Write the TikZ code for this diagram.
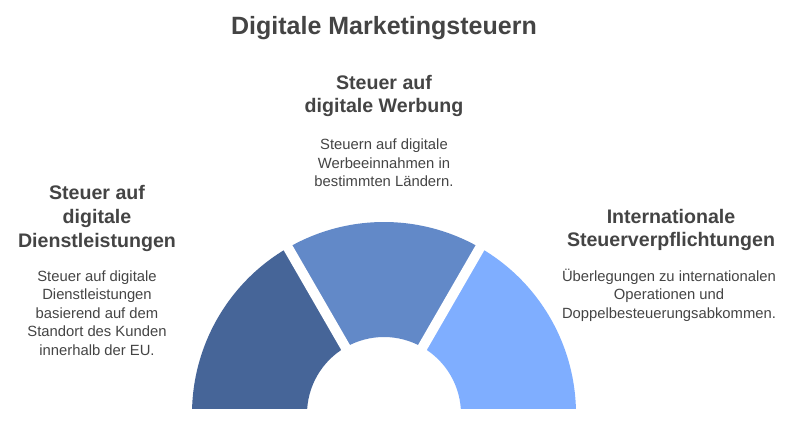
\documentclass[tikz,border=0pt]{standalone}
\usepackage{fontspec}
\setmainfont{Liberation Sans}
\usetikzlibrary{calc}
\definecolor{txtgray}{RGB}{68,68,68}
\definecolor{segdark}{RGB}{70,101,152}
\definecolor{segmid}{RGB}{98,137,200}
\definecolor{seglight}{RGB}{127,174,255}
\tikzset{
    headtext/.style={text=txtgray,align=center,inner sep=0pt,font=\fontsize{19.6}{23.8}\selectfont\bfseries},
    bodytext/.style={text=txtgray,align=center,inner sep=0pt,font=\fontsize{14.8}{18.5}\selectfont}
}
\begin{document}
\begin{tikzpicture}[x=1pt,y=1pt]
        \useasboundingbox (0,0) rectangle (798,421);
        \coordinate (c) at (384,7);
        % segments of the half ring, cut at the bottom
        \begin{scope}
            \clip (0,13) rectangle (798,421);
            \fill[segdark] ($(c)+(180:192)$) arc (180:120:192) -- ($(c)+(120:77)$) arc (120:180:77) -- cycle;
            \fill[segmid] ($(c)+(120:192)$) arc (120:60:192) -- ($(c)+(60:77)$) arc (60:120:77) -- cycle;
            \fill[seglight] ($(c)+(60:192)$) arc (60:0:192) -- ($(c)+(0:77)$) arc (0:60:77) -- cycle;
            \draw[white,line width=10pt] (c) -- ($(c)+(120:200)$);
            \draw[white,line width=10pt] (c) -- ($(c)+(60:200)$);
        \end{scope}
        % texts
        \node[text=txtgray,inner sep=0pt,font=\fontsize{25}{29}\selectfont\bfseries] (title) at (384,393) {Digitale Marketingsteuern};
        \node[headtext] (werbungHead) at (384,325) {Steuer auf\\digitale Werbung};
        \node[bodytext] (werbungBody) at (384,258) {Steuern auf digitale\\Werbeeinnahmen in\\bestimmten Ländern.};
        \node[headtext] (dienstHead) at (97,202.5) {Steuer auf\\digitale\\Dienstleistungen};
        \node[bodytext] (dienstBody) at (97,108) {Steuer auf digitale\\Dienstleistungen\\basierend auf dem\\Standort des Kunden\\innerhalb der EU.};
        \node[headtext] (interHead) at (671,191) {Internationale\\Steuerverpflichtungen};
        \node[bodytext] (interBody) at (669,126) {Überlegungen zu internationalen\\Operationen und\\Doppelbesteuerungsabkommen.};
    \end{tikzpicture}
\end{document}
